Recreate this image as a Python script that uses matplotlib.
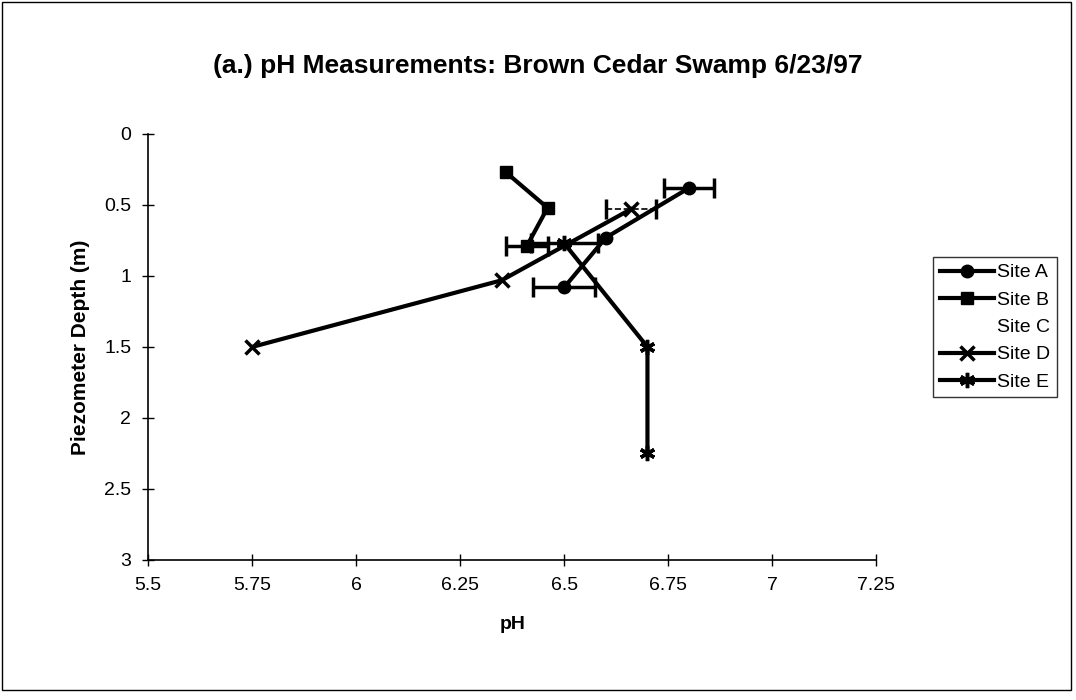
import matplotlib
matplotlib.use("Agg")
import matplotlib.pyplot as plt
from matplotlib.patches import Rectangle
from matplotlib.lines import Line2D

plt.rcParams['font.family'] = ['Liberation Sans', 'DejaVu Sans']

# site data: pH, depth (m), pH error (0 = no bar)
siteA_ph = [6.8, 6.6, 6.5]
siteA_depth = [0.38, 0.73, 1.08]
siteA_err = [0.06, 0.0, 0.075]

siteB_ph = [6.36, 6.46, 6.41]
siteB_depth = [0.27, 0.52, 0.79]
siteB_err = [0.0, 0.0, 0.05]

siteD_ph = [6.66, 6.35, 5.75]
siteD_depth = [0.53, 1.03, 1.5]
siteD_err = [0.06, 0.0, 0.0]

siteE_ph = [6.5, 6.7, 6.7]
siteE_depth = [0.77, 1.5, 2.25]
siteE_err = [0.08, 0.0, 0.0]

xticks = [5.5, 5.75, 6, 6.25, 6.5, 6.75, 7, 7.25]
xticklabels = ["5.5", "5.75", "6", "6.25", "6.5", "6.75", "7", "7.25"]
yticks = [0, 0.5, 1, 1.5, 2, 2.5, 3]
yticklabels = ["0", "0.5", "1", "1.5", "2", "2.5", "3"]

fig = plt.figure(figsize=(10.76, 7), dpi=100)
ax = fig.add_axes([0.1375, 0.2, 0.677, 0.6086])

lw = 3
styles = [
    ("Site A", siteA_ph, siteA_depth, siteA_err, dict(marker="o", ms=9), "-", 2.5),
    ("Site B", siteB_ph, siteB_depth, siteB_err, dict(marker="s", ms=9), "-", 2.5),
    ("Site D", siteD_ph, siteD_depth, siteD_err, dict(marker="x", ms=10, mew=2.5), "--", 1.2),
    ("Site E", siteE_ph, siteE_depth, siteE_err, dict(marker=(6, 2, 0), ms=11, mew=2.5), "-", 2.5),
]
handles = {}
for name, xs, ys, es, mk, els, elw in styles:
    ax.plot(xs, ys, color="black", lw=lw, **mk)
    ex = [x for x, e in zip(xs, es) if e > 0]
    ey = [y for y, e in zip(ys, es) if e > 0]
    ee = [e for e in es if e > 0]
    eb = ax.errorbar(ex, ey, xerr=ee, fmt="none", ecolor="black", elinewidth=elw,
                     capsize=7, capthick=2.5)
    eb[2][0].set_linestyle(els)
    handles[name] = Line2D([], [], color="black", lw=lw, **mk)
handles["Site C"] = Line2D([], [], color="none")

order = ["Site A", "Site B", "Site C", "Site D", "Site E"]

ax.set_xlim(5.5, 7.25)
ax.set_ylim(3, 0)
ax.set_xticks(xticks)
ax.set_xticklabels(xticklabels)
ax.set_yticks(yticks)
ax.set_yticklabels(yticklabels)
ax.tick_params(direction="inout", length=8, width=1, labelsize=14, pad=8)
for s in ["top", "right"]:
    ax.spines[s].set_visible(False)
ax.spines["left"].set_linewidth(1.2)
ax.spines["bottom"].set_linewidth(1.2)

ax.set_xlabel("pH", fontsize=14, fontweight="bold", labelpad=16)
ax.set_ylabel("Piezometer Depth (m)", fontsize=15, fontweight="bold", labelpad=10)
fig.text(0.5, 0.905, "(a.) pH Measurements: Brown Cedar Swamp 6/23/97",
         ha="center", va="center", fontsize=19, fontweight="bold")

leg = fig.legend([handles[k] for k in order], order, loc="upper left",
                 bbox_to_anchor=(0.867, 0.633),
                 frameon=True, fancybox=False, edgecolor="black",
                 fontsize=14, handlelength=2.8, handletextpad=0.15,
                 borderpad=0.35, labelspacing=0.5, borderaxespad=0)
leg.get_frame().set_linewidth(1)

fig.patches.append(Rectangle((0.002, 0.015), 0.993, 0.982, transform=fig.transFigure,
                             fill=False, edgecolor="black", lw=1))

fig.savefig("out.png", dpi=100)
